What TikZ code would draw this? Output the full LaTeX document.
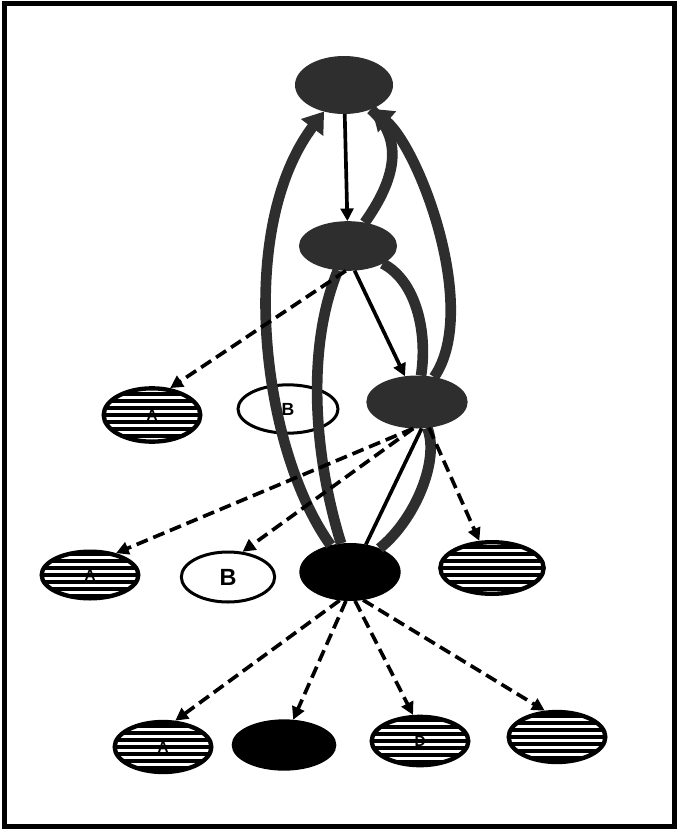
\documentclass[tikz,border=0pt]{standalone}
\usepackage{fontspec}
\setsansfont{Liberation Sans}
\usetikzlibrary{shapes.geometric,arrows.meta}
\definecolor{inkGray}{HTML}{2E2E2E}

\tikzset{
  blackegg/.style={ellipse,fill=black,draw=black,line width=0.4mm,inner sep=0pt},
  hatchegg/.style={ellipse,fill=black,draw=black,line width=1.3mm,inner sep=0pt,
    font=\sffamily\bfseries\fontsize{13}{13}\selectfont,
    path picture={\foreach \k in {-3.5,-2.5,...,3.5}
      \draw[white,line width=0.75mm]
        ([xshift=-20mm,yshift=\k*2.1mm]path picture bounding box.center) -- ++(40mm,0);}},
  whiteegg/.style={ellipse,fill=white,draw=black,line width=0.9mm,inner sep=0pt,
    font=\sffamily\bfseries\fontsize{20}{20}\selectfont},
  thickarc/.style={draw=inkGray,line width=3.2mm},
  bigtip/.style={-{Triangle[length=6mm,width=8mm]}},
  plainline/.style={draw=black,line width=1.1mm},
  thinline/.style={plainline,-{Triangle[length=3.8mm,width=3.8mm]}},
  dashline/.style={thinline,dash pattern=on 3.6mm off 1.8mm},
}

\begin{document}
\begin{tikzpicture}[x=0.3mm,y=-0.3mm]
  \useasboundingbox (0,0) rectangle (678,830);
  \draw[line width=1.5mm] (4,4) rectangle (674,826);

  % nodes, row by row
  \node[blackegg,fill=inkGray,draw=inkGray,minimum width=29mm,minimum height=17mm] (top) at (344,85) {};
  \node[blackegg,fill=inkGray,draw=inkGray,minimum width=29mm,minimum height=14.5mm] (mid) at (348,246) {};

  \node[hatchegg,minimum width=29mm,minimum height=16mm] (l1a) at (152,415) {A};
  \node[whiteegg,minimum width=30mm,minimum height=14.5mm,font=\sffamily\bfseries\fontsize{15}{15}\selectfont] (l1b) at (288,409) {B};
  \node[blackegg,fill=inkGray,draw=inkGray,minimum width=30mm,minimum height=15.5mm] (l1c) at (417,402) {};

  \node[hatchegg,minimum width=29mm,minimum height=14mm] (l2a) at (90,575) {A};
  \node[whiteegg,minimum width=28mm,minimum height=15mm] (l2b) at (228,577) {B};
  \node[blackegg,minimum width=30mm,minimum height=17mm] (l2c) at (350,572) {};
  \node[hatchegg,minimum width=31mm,minimum height=15.5mm] (l2d) at (492,568) {};

  \node[hatchegg,minimum width=29mm,minimum height=15mm] (l3a) at (163,747) {A};
  \node[blackegg,minimum width=31mm,minimum height=15mm] (l3b) at (284,745) {};
  \node[hatchegg,minimum width=29mm,minimum height=14.5mm] (l3c) at (420,741) {D};
  \node[hatchegg,minimum width=29mm,minimum height=15mm] (l3d) at (557,737) {};

  % heavy links
  \draw[thickarc,bigtip] (l2c) .. controls (262,450) and (235,230) .. (top);
  \draw[thickarc] (mid) .. controls (305,350) and (315,460) .. (l2c);
  \draw[thickarc,bigtip] (l1c) .. controls (480,310) and (420,150) .. (top);
  \draw[thickarc] (mid) .. controls (415,280) and (428,330) .. (l1c);
  \draw[thickarc] (top) .. controls (405,140) and (395,180) .. (mid);
  \draw[thickarc] (l1c) .. controls (440,460) and (415,520) .. (l2c);

  % light links
  \draw[thinline] (top) -- (mid);
  \draw[thinline] (mid.285) -- (l1c.115);
  \draw[plainline] (l1c.280) -- (l2c.60);
  \draw[dashline] (mid.265) -- (l1a.56);
  \draw[dashline] (l1c.262) -- (l2a.40);
  \draw[dashline] (l1c.262) -- (l2b.60);
  \draw[dashline] (l1c.295) -- (l2d.115);
  \draw[dashline] (l2c.250) -- (l3a.65);
  \draw[dashline] (l2c.262) -- (l3b.70);
  \draw[dashline] (l2c.280) -- (l3c.105);
  \draw[dashline] (l2c.295) -- (l3d.115);
\end{tikzpicture}
\end{document}
